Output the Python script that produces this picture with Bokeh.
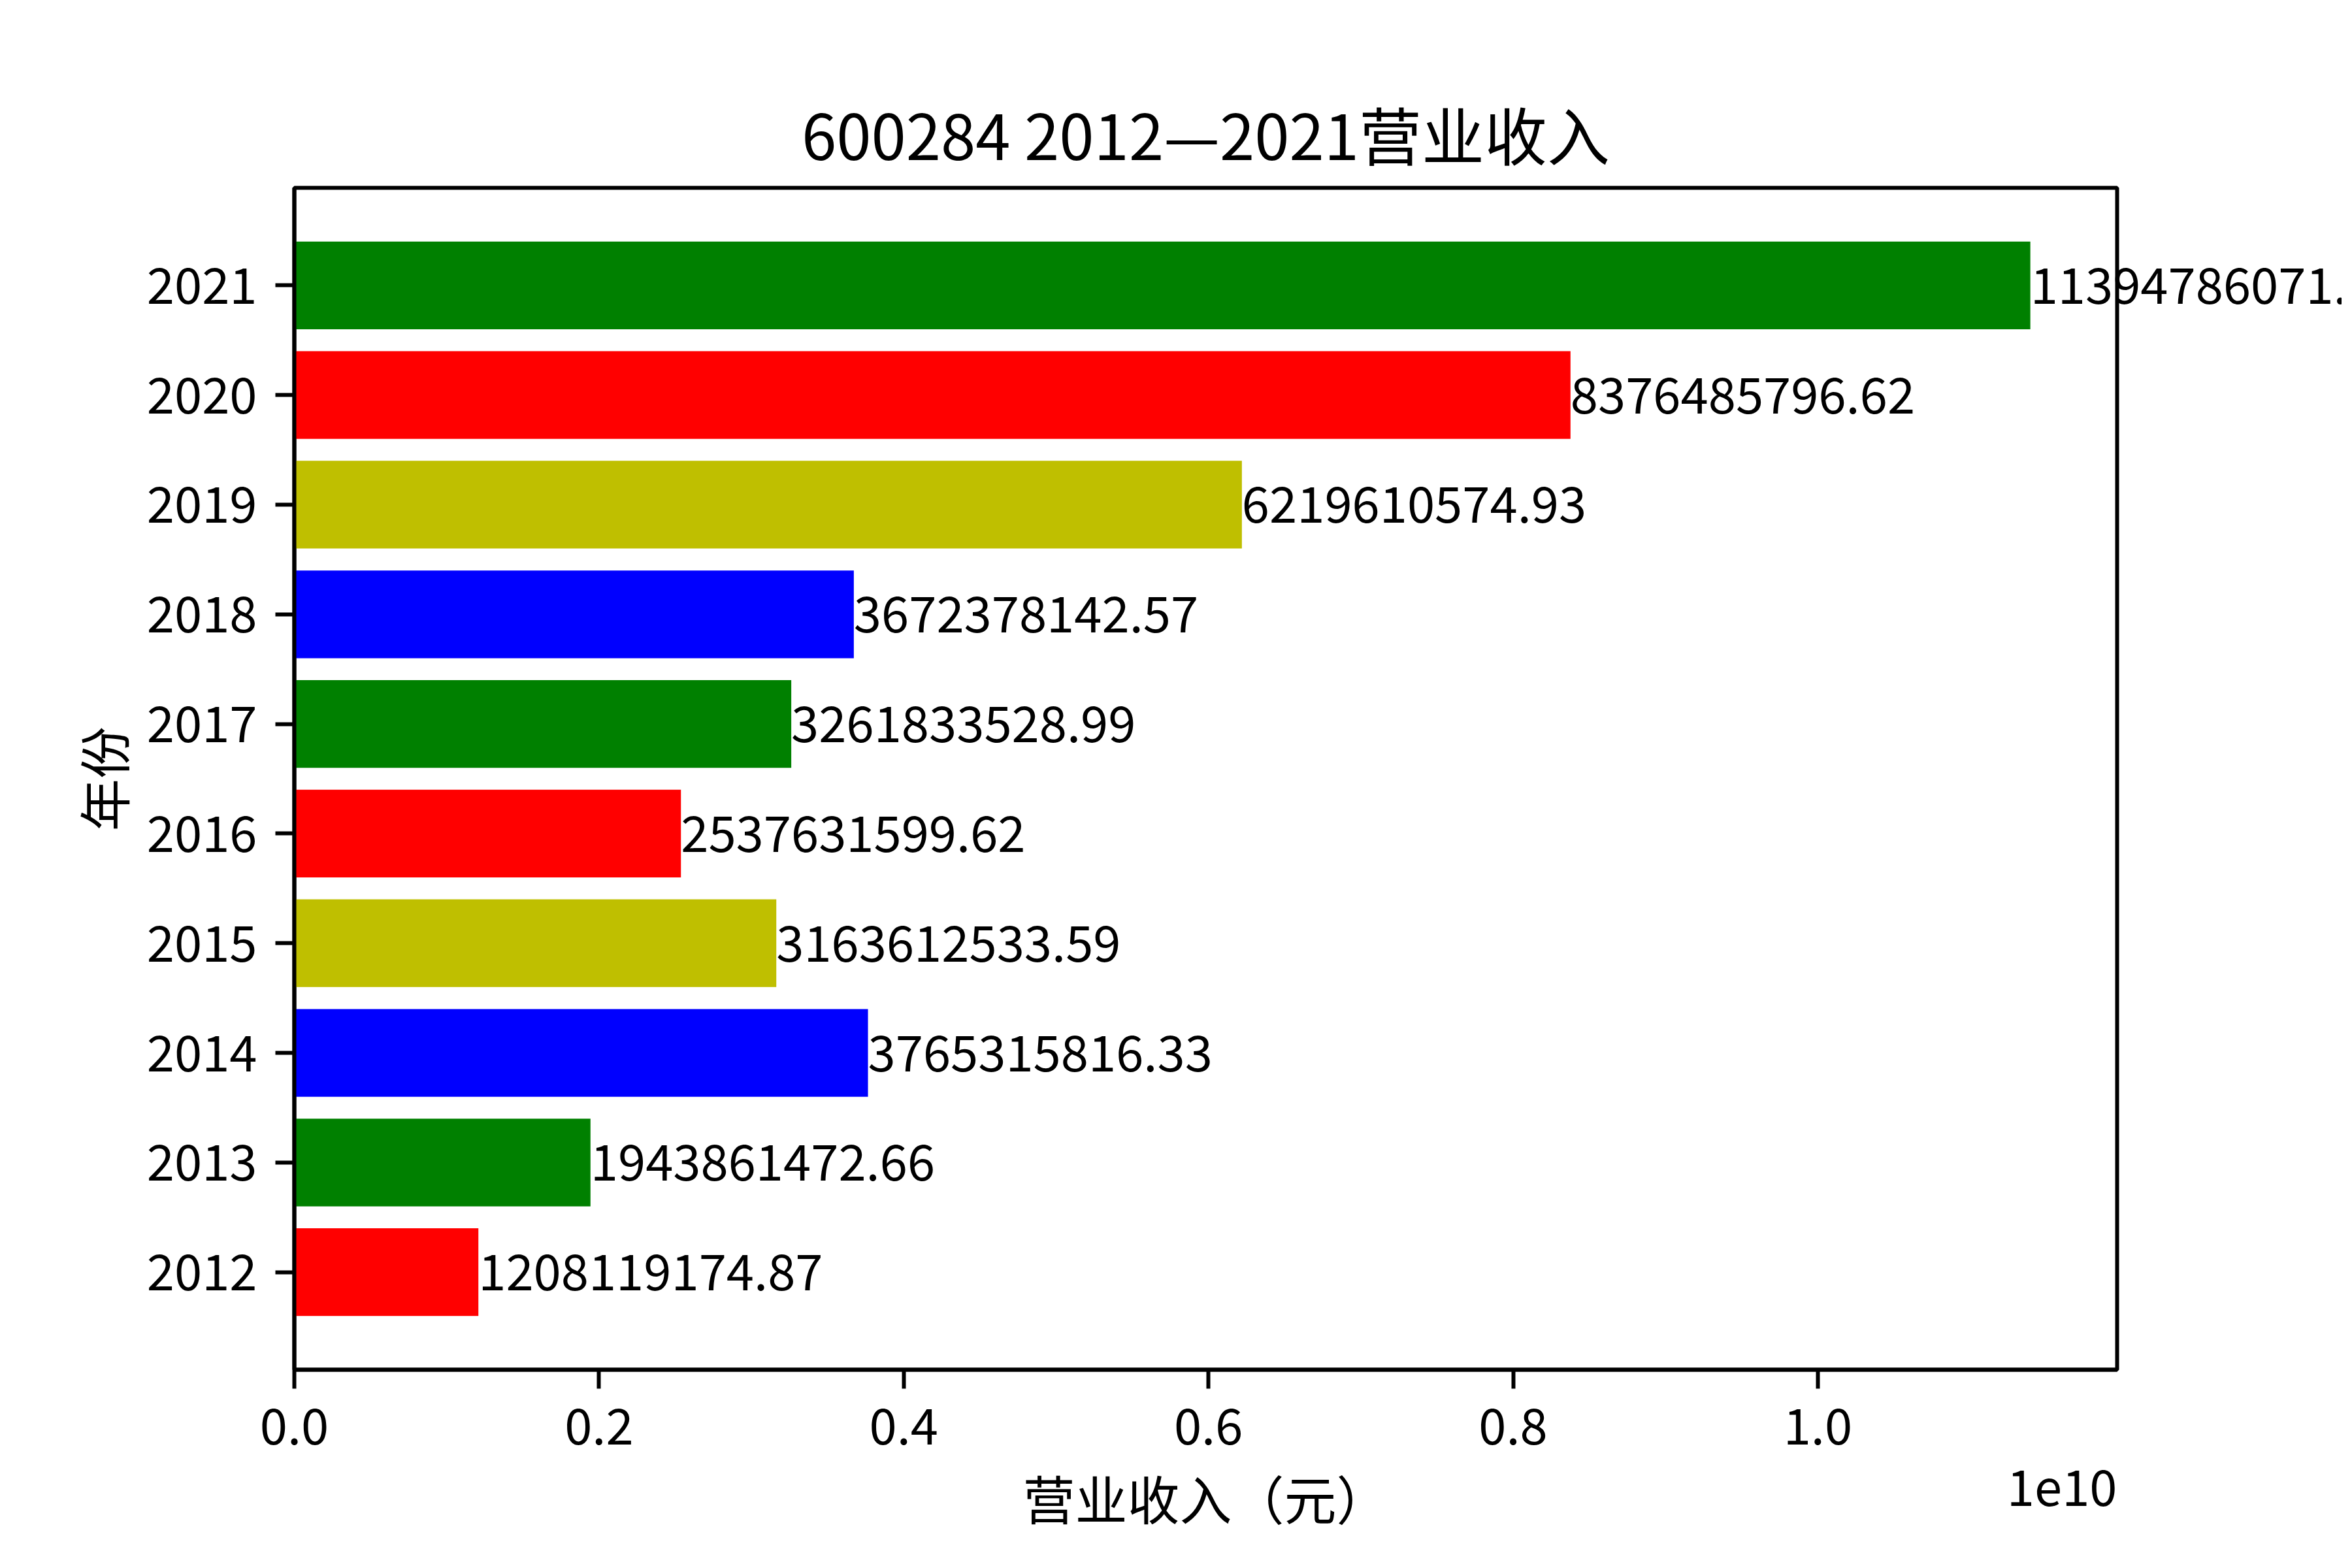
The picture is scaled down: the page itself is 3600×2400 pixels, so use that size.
from bokeh.plotting import figure
from bokeh.models import Label, FixedTicker, CustomJSTickFormatter, Range1d, ColumnDataSource, Title
from bokeh.embed import file_html
from bokeh.resources import INLINE

years = ["2012", "2013", "2014", "2015", "2016", "2017", "2018", "2019", "2020", "2021"]
revenue = [1208119174.87, 1943861472.66, 3765315816.33, 3163612533.59, 2537631599.62,
           3261833528.99, 3672378142.57, 6219610574.93, 8376485796.62, 11394786071.00]
colors = ["#FF0000", "#008000", "#0000FF", "#BFBF00", "#FF0000",
          "#008000", "#0000FF", "#BFBF00", "#FF0000", "#008000"]
x_ticks = [0, 2e9, 4e9, 6e9, 8e9, 1e10]
title_text = "600284 2012—2021营业收入"
x_label = "营业收入（元）"
y_label = "年份"
offset_text = "1e10"

FONT = "Noto Sans CJK SC"

idx = list(range(len(years)))
labels = [f"{v:.2f}" for v in revenue]
xmax = max(revenue) * 1.05
n = len(years)
pad = (n - 1 + 0.8) * 0.05
ymin, ymax = -0.4 - pad, n - 1 + 0.4 + pad

src = ColumnDataSource(dict(y=idx, right=revenue, color=colors, label=labels))

p = figure(width=3584, height=2384, output_backend="svg", toolbar_location=None,
           x_range=Range1d(0, xmax), y_range=Range1d(ymin, ymax),
           min_border_left=450, min_border_right=344, min_border_top=287, min_border_bottom=288)
p.title.visible = False

p.hbar(y="y", left=0, right="right", height=0.8, color="color", line_color=None, source=src)

# title first in the "above" stack so it sits right over the frame
p.add_layout(Title(text=title_text, text_font=FONT, text_font_size="96px",
                   text_font_style="normal", text_color="black", align="center",
                   standoff=30), "above")

# value labels; the longest one spills past the frame, so it lives in a side panel
for i in idx:
    lab = Label(x=revenue[i], y=idx[i], text=labels[i], text_align="left",
                text_baseline="middle", text_font=FONT, text_font_size="76px",
                text_color="black")
    if revenue[i] == max(revenue):
        p.add_layout(lab, "above")
    else:
        p.add_layout(lab)

p.xgrid.visible = False
p.ygrid.visible = False
p.outline_line_color = "black"
p.outline_line_width = 6
p.background_fill_color = "white"
p.border_fill_color = "white"

for ax in (p.xaxis[0], p.yaxis[0]):
    ax.axis_line_width = 6
    ax.major_tick_line_width = 6
    ax.major_tick_out = 29
    ax.major_tick_in = 0
    ax.minor_tick_line_color = None
    ax.major_label_text_font = FONT
    ax.major_label_text_font_size = "76px"
    ax.major_label_text_color = "black"
    ax.axis_label_text_font = FONT
    ax.axis_label_text_font_size = "80px"
    ax.axis_label_text_font_style = "normal"
    ax.axis_label_text_color = "black"

p.xaxis.major_label_standoff = 29
p.xaxis.axis_label_standoff = 19
p.yaxis.major_label_standoff = 28
p.yaxis.axis_label_standoff = 8

p.xaxis.ticker = FixedTicker(ticks=x_ticks)
p.xaxis.formatter = CustomJSTickFormatter(code="return (tick/1e10).toFixed(1);")
p.xaxis.axis_label = x_label

p.yaxis.ticker = FixedTicker(ticks=idx)
p.yaxis.major_label_overrides = {i: years[i] for i in idx}
p.yaxis.axis_label = y_label

# scientific offset text under the right end of the x axis
p.add_layout(Label(x=0, y=-180, x_units="screen", y_units="screen", text=offset_text,
                   text_align="right", text_baseline="middle", text_font=FONT,
                   text_font_size="76px", text_color="black"), "right")

open("out.html", "w").write(file_html(p, INLINE))
